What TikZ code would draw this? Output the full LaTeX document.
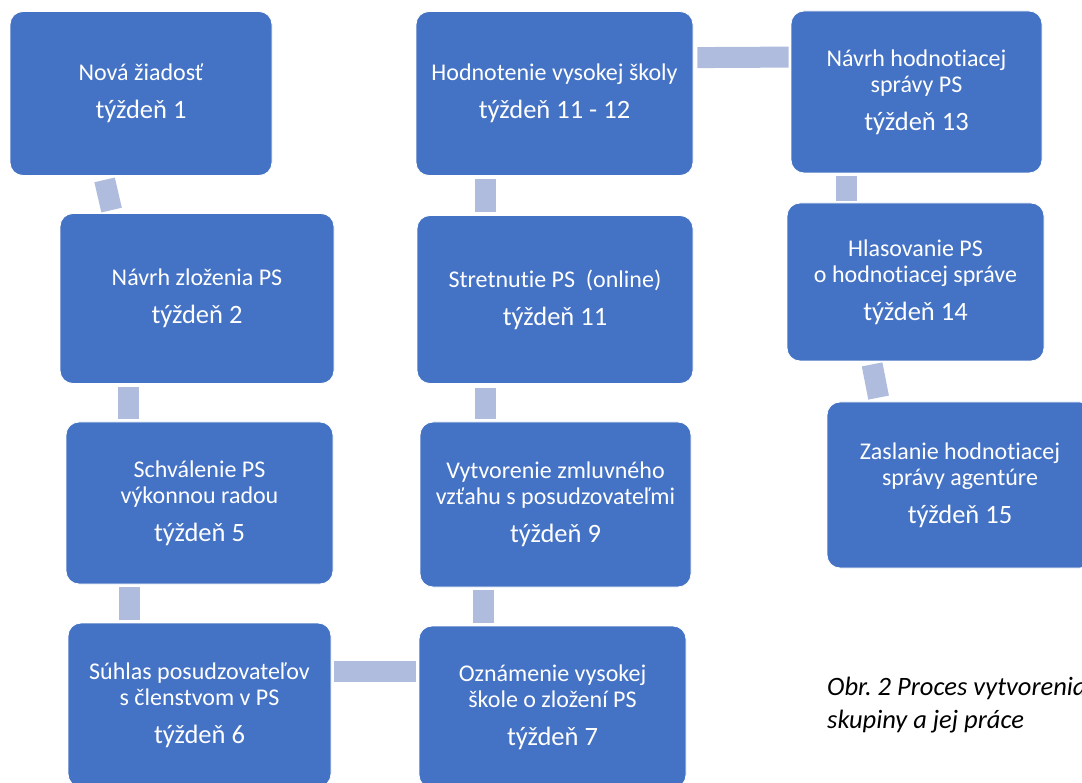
\documentclass[tikz,border=0pt]{standalone}
\usepackage{fontspec}
\setmainfont{Carlito}[Ligatures=NoCommon]
\frenchspacing
\definecolor{boxblue}{RGB}{68,114,196}
\definecolor{linkblue}{RGB}{176,188,222}
\newcommand{\wk}[1]{\\[11.5pt]{\fontsize{26.5}{29}\selectfont t\'y\v zde\v n #1}}

\begin{document}
\begin{tikzpicture}[x=1pt,y=-1pt,
    box/.style={rectangle, rounded corners=13pt, fill=boxblue, draw=white,
        line width=0.8pt, align=center, inner sep=0pt, text=white,
        font=\fontsize{24}{26.4}\selectfont},
    link/.style={draw=linkblue, line width=21pt},
    caption/.style={anchor=base west, inner sep=0pt,
        font=\fontsize{26.5}{30}\selectfont\itshape}]
        \useasboundingbox (0,0) rectangle (1082,783);
        \clip (0,0) rectangle (1082,783);

        % left column
        \node[box, minimum width=262pt, minimum height=164pt] (b1) at (141,93.5)
            {Nová žiadosť\wk{1}};
        \node[box, minimum width=274pt, minimum height=170pt] (b2) at (197,298.5)
            {Návrh zloženia PS\wk{2}};
        \node[box, minimum width=267pt, minimum height=162pt] (b3) at (199.5,503)
            {Schválenie PS\\výkonnou radou\wk{5}};
        \node[box, minimum width=263pt, minimum height=164pt] (b4) at (199.5,705)
            {Súhlas posudzovateľov\\s členstvom v PS\wk{6}};

        % middle column
        \node[box, minimum width=267pt, minimum height=162pt] (b7) at (552.5,707)
            {Oznámenie vysokej\\škole o zložení PS\wk{7}};
        \node[box, minimum width=271pt, minimum height=165pt] (b9) at (555.5,504.5)
            {Vytvorenie zmluvného\\vzťahu s posudzovateľmi\wk{9}};
        \node[box, minimum width=276pt, minimum height=168pt] (b11) at (555,299.5)
            {Stretnutie PS\ \ (online)\wk{11}};
        \node[box, minimum width=277pt, minimum height=164pt] (b12) at (554.5,93.5)
            {Hodnotenie vysokej školy\wk{11 - 12}};

        % right column
        \node[box, minimum width=251pt, minimum height=162pt] (b13) at (916.5,92)
            {Návrh hodnotiacej\\správy PS\wk{13}};
        \node[box, minimum width=257pt, minimum height=158pt] (b14) at (915.5,282)
            {Hlasovanie PS\\o hodnotiacej správe\wk{14}};
        \node[box, minimum width=266pt, minimum height=166pt] (b15) at (960,485)
            {Zaslanie hodnotiacej\\správy agentúre\wk{15}};

        % connectors
        \draw[link] ([xshift=95pt,yshift=-4pt]b1.south west)
            -- ([xshift=52pt,yshift=3pt]b2.north west);
        \draw[link] ([xshift=68.5pt,yshift=-3pt]b2.south west)
            -- ([xshift=62.5pt,yshift=3pt]b3.north west);
        \draw[link] ([xshift=64pt,yshift=-3pt]b3.south west)
            -- ([xshift=62pt,yshift=3pt]b4.north west);
        \draw[link] ([xshift=3pt,yshift=-48.5pt]b4.north east)
            -- ([xshift=-3pt,yshift=-45.5pt]b7.north west);
        \draw[link] ([xshift=64.5pt,yshift=3pt]b7.north west)
            -- ([xshift=63.5pt,yshift=-3pt]b9.south west);
        \draw[link] ([xshift=66pt,yshift=3pt]b9.north west)
            -- ([xshift=69pt,yshift=-4pt]b11.south west);
        \draw[link] ([xshift=68.5pt,yshift=3pt]b11.north west)
            -- ([xshift=69.5pt,yshift=-3pt]b12.south west);
        \draw[link] ([xshift=4pt,yshift=-46.5pt]b12.north east)
            -- ([xshift=-2pt,yshift=-46.5pt]b13.north west);
        \draw[link] ([xshift=55.5pt,yshift=-3pt]b13.south west)
            -- ([xshift=59.5pt,yshift=2pt]b14.north west);
        \draw[link] ([xshift=85.5pt,yshift=-3pt]b14.south west)
            -- ([xshift=52pt,yshift=4pt]b15.north west);

        \node[caption] (cap1) at (827,695) {Obr. 2 Proces vytvorenia};
        \node[caption] (cap2) at (827,728) {skupiny a jej práce};
    \end{tikzpicture}
\end{document}
